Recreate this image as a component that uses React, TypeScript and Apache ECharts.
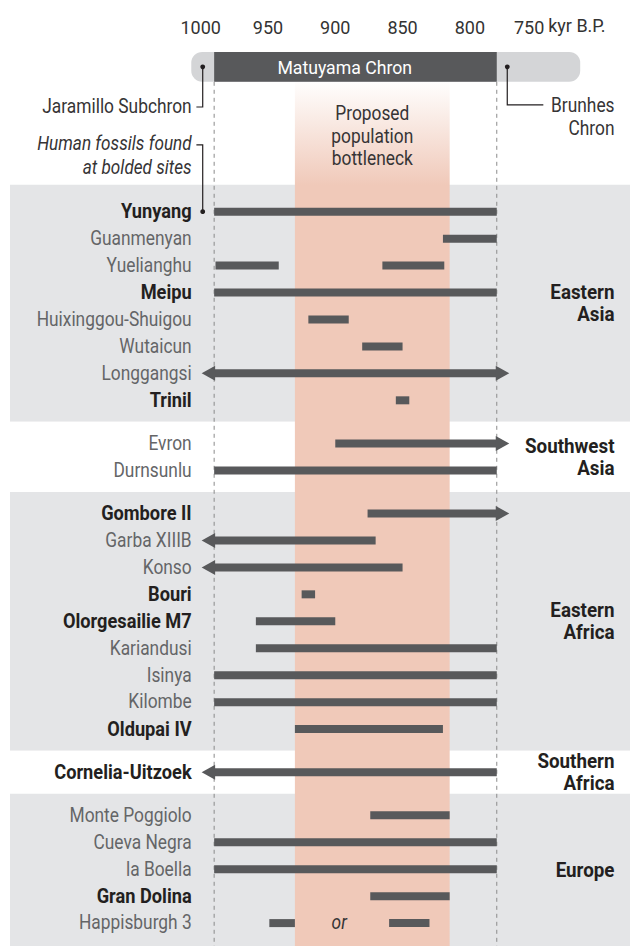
import React, { useEffect, useRef } from "react";
import * as echarts from "echarts";

// ---------- data ----------
const tickValues = [1000, 950, 900, 850, 800, 750];
const regionNames = [["Eastern", "Asia"], ["Southwest", "Asia"], ["Eastern", "Africa"], ["Southern", "Africa"], ["Europe"]];
const regionSiteCounts = [8, 2, 9, 1, 5];
const siteNames = [
  "Yunyang", "Guanmenyan", "Yuelianghu", "Meipu", "Huixinggou-Shuigou", "Wutaicun", "Longgangsi", "Trinil",
  "Evron", "Durnsunlu",
  "Gombore II", "Garba XIIIB", "Konso", "Bouri", "Olorgesailie M7", "Kariandusi", "Isinya", "Kilombe", "Oldupai IV",
  "Cornelia-Uitzoek",
  "Monte Poggiolo", "Cueva Negra", "la Boella", "Gran Dolina", "Happisburgh 3",
];
const humanFossilSites = ["Yunyang", "Meipu", "Trinil", "Gombore II", "Bouri", "Olorgesailie M7", "Oldupai IV", "Cornelia-Uitzoek", "Gran Dolina"];
// [site, from (kyr B.P.), to (kyr B.P.), arrow]
const siteSpans: [string, number, number, string][] = [
  ["Yunyang", 990, 780, ""],
  ["Guanmenyan", 820, 780, ""],
  ["Yuelianghu", 989, 942, ""],
  ["Yuelianghu", 865, 819, ""],
  ["Meipu", 990, 780, ""],
  ["Huixinggou-Shuigou", 920, 890, ""],
  ["Wutaicun", 880, 850, ""],
  ["Longgangsi", 990, 780, "both"],
  ["Trinil", 855, 845, ""],
  ["Evron", 900, 780, "right"],
  ["Durnsunlu", 990, 780, ""],
  ["Gombore II", 876, 780, "right"],
  ["Garba XIIIB", 990, 870, "left"],
  ["Konso", 990, 850, "left"],
  ["Bouri", 925, 915, ""],
  ["Olorgesailie M7", 959, 900, ""],
  ["Kariandusi", 959, 780, ""],
  ["Isinya", 990, 780, ""],
  ["Kilombe", 990, 780, ""],
  ["Oldupai IV", 930, 820, ""],
  ["Cornelia-Uitzoek", 990, 780, "left"],
  ["Monte Poggiolo", 874, 815, ""],
  ["Cueva Negra", 990, 780, ""],
  ["la Boella", 990, 780, ""],
  ["Gran Dolina", 874, 815, ""],
  ["Happisburgh 3", 949, 930, ""],
  ["Happisburgh 3", 860, 830, ""],
];
const matuyamaChron = [990, 780];
const chronBoundaries = [990, 780]; // Jaramillo end, Brunhes start
const bottleneck = [930, 815];

// ---------- layout constants ----------
const X_MIN = 681;
const X_MAX = 1141.7;
const Y_MIN = -6;
const Y_MAX = 27.25;
const REGION_GAP = 0.6;
const CHRON_TOP = -5.93;
const CHRON_BOTTOM = -4.82;
const CHRON_MID = (CHRON_TOP + CHRON_BOTTOM) / 2;
const LABEL_KYR = 1006.7;
const REGION_LABEL_KYR = 692.5;
const LEADER_KYR = 998.5;
const BRUNHES_DOT_KYR = 772.2;

const BAR = "#58595b";
const BAND = "#e4e5e7";
const SHADE = "240,201,185";
const DARK = "#231f20";
const GREY_TEXT = "#646567";
const ANNOT = "#363435";
const FF = "Roboto";
const TXT_SIZE = 19.5;
const SCALE_REG = 0.89;
const SCALE_BOLD = 0.935;

export default function App() {
  const ref = useRef<HTMLDivElement>(null);
  useEffect(() => {
    const el = ref.current!;

    // row positions
    const rowY: number[] = [];
    const bands: [number, number][] = [];
    let y = 0;
    regionSiteCounts.forEach((n, r) => {
      for (let i = 0; i < n; i++) rowY.push(y + i);
      const last = y + n - 1;
      bands.push([y - (r === 0 ? 1.0 : 0.8), r === regionSiteCounts.length - 1 ? Y_MAX : last + 0.8]);
      y = last + 1 + REGION_GAP;
    });

    const chart = echarts.init(el, null, { renderer: "svg" });
    const txt = (text: string, p: number[], o: any = {}) => {
      const bold = o.fontWeight === "bold";
      return {
        type: "text",
        x: p[0],
        y: p[1],
        scaleX: o.scaleX || (bold ? SCALE_BOLD : SCALE_REG),
        style: {
          text,
          x: 0,
          y: 0,
          fill: o.fill || ANNOT,
          fontFamily: FF,
          fontSize: o.fontSize || TXT_SIZE,
          fontWeight: o.fontWeight || "normal",
          fontStyle: o.fontStyle || "normal",
          align: o.align || "left",
          verticalAlign: "middle",
        },
      };
    };

    const option: any = {
      animation: false,
      backgroundColor: "#ffffff",
      grid: { left: 10, right: 0, top: 50, bottom: 0, containLabel: false, outerBoundsMode: "none" },
      xAxis: {
        type: "value",
        position: "top",
        inverse: true,
        min: X_MIN,
        max: X_MAX,
        axisLine: { show: false },
        splitLine: { show: false },
        axisTick: { show: true, customValues: tickValues, length: 9, lineStyle: { color: "#555", width: 1 } },
        axisLabel: {
          customValues: tickValues,
          margin: 14,
          color: "#333",
          fontFamily: FF,
          fontSize: 18,
          formatter: (v: number) => (v === 750 ? `{s|${v}}` : `${v}`),
          rich: { s: { padding: [0, 16, 0, 0], color: "#333", fontFamily: FF, fontSize: 18 } },
        },
      },
      yAxis: { type: "value", inverse: true, min: Y_MIN, max: Y_MAX, show: false },
      series: [
        {
          type: "custom",
          name: "bands",
          z: 1,
          clip: false,
          data: bands.map((b, i) => [b[0], b[1], i]),
          renderItem: (params: any, api: any) => {
            const b = bands[params.dataIndex];
            const p1 = api.coord([X_MAX, b[0]]);
            const p2 = api.coord([X_MIN, b[1]]);
            return {
              type: "rect",
              shape: { x: p1[0], y: p1[1], width: p2[0] - p1[0], height: p2[1] - p1[1] },
              style: { fill: params.dataIndex % 2 === 0 ? BAND : "#ffffff" },
            };
          },
        },
        {
          type: "custom",
          name: "bottleneck",
          z: 2,
          clip: false,
          data: [[bottleneck[0], bottleneck[1]]],
          renderItem: (params: any, api: any) => {
            const p1 = api.coord([api.value(0), CHRON_BOTTOM]);
            const p2 = api.coord([api.value(1), Y_MAX]);
            return {
              type: "rect",
              shape: { x: p1[0], y: p1[1], width: p2[0] - p1[0], height: p2[1] - p1[1] },
              style: {
                fill: new echarts.graphic.LinearGradient(0, 0, 0, 1, [
                  { offset: 0, color: `rgba(${SHADE},0.02)` },
                  { offset: 0.12, color: `rgba(${SHADE},1)` },
                  { offset: 1, color: `rgba(${SHADE},1)` },
                ]),
              },
            };
          },
        },
        {
          type: "custom",
          name: "boundaries",
          z: 3,
          clip: false,
          data: chronBoundaries.map((v) => [v, 0]),
          renderItem: (params: any, api: any) => {
            const p1 = api.coord([api.value(0), CHRON_BOTTOM]);
            const p2 = api.coord([api.value(0), Y_MAX]);
            return {
              type: "line",
              shape: { x1: p1[0], y1: p1[1], x2: p2[0], y2: p2[1] },
              style: { stroke: "#8a8a8a", lineWidth: 1, lineDash: [4, 4] },
            };
          },
        },
        {
          type: "custom",
          name: "annotations",
          z: 4,
          clip: false,
          data: [[1000, 0]],
          renderItem: (params: any, api: any) => {
            const c = (v: number, yy: number) => api.coord([v, yy]);
            const l1 = c(1007, CHRON_TOP);
            const l2 = c(718, CHRON_BOTTOM);
            const d1 = c(matuyamaChron[0], CHRON_TOP);
            const d2 = c(matuyamaChron[1], CHRON_BOTTOM);
            const jd = c(LEADER_KYR, CHRON_MID);
            const bd = c(BRUNHES_DOT_KYR, CHRON_MID);
            const mid = (bottleneck[0] + bottleneck[1]) / 2;
            return {
              type: "group",
              children: [
                { type: "rect", shape: { x: l1[0], y: l1[1], width: l2[0] - l1[0], height: l2[1] - l1[1], r: 11 }, style: { fill: "#d4d5d7" } },
                { type: "rect", shape: { x: d1[0], y: d1[1], width: d2[0] - d1[0], height: d2[1] - d1[1] }, style: { fill: BAR } },
                txt("Matuyama Chron", c(893, CHRON_MID), { fill: "#ffffff", align: "center", fontSize: 19, scaleX: 0.93 }),
                { type: "circle", shape: { cx: jd[0], cy: jd[1], r: 2.4 }, style: { fill: DARK } },
                { type: "circle", shape: { cx: bd[0], cy: bd[1], r: 2.4 }, style: { fill: DARK } },
                {
                  type: "polyline",
                  shape: { points: [jd, c(LEADER_KYR, -3.885), c(1003.2, -3.885)] },
                  style: { stroke: DARK, lineWidth: 1.2, fill: "none" },
                },
                txt("Jaramillo Subchron", c(LABEL_KYR, -3.9), { align: "right" }),
                {
                  type: "polyline",
                  shape: { points: [c(1003.2, -2.48), c(LEADER_KYR, -2.48), c(LEADER_KYR, 0)] },
                  style: { stroke: DARK, lineWidth: 1.2, fill: "none" },
                },
                { type: "circle", shape: { cx: c(LEADER_KYR, 0)[0], cy: c(LEADER_KYR, 0)[1], r: 2.4 }, style: { fill: DARK } },
                txt("Human fossils found", c(LABEL_KYR, -2.55), { align: "right", fontStyle: "italic", scaleX: 0.88 }),
                txt("at bolded sites", c(LABEL_KYR, -1.66), { align: "right", fontStyle: "italic", scaleX: 0.88 }),
                {
                  type: "polyline",
                  shape: { points: [bd, c(BRUNHES_DOT_KYR, -3.96), c(745.4, -3.96)] },
                  style: { stroke: DARK, lineWidth: 1.2, fill: "none" },
                },
                txt("Brunhes", c(REGION_LABEL_KYR, -3.92), { align: "right" }),
                txt("Chron", c(REGION_LABEL_KYR, -3.09), { align: "right" }),
                txt("Proposed", c(mid, -3.65), { align: "center" }),
                txt("population", c(mid, -2.78), { align: "center" }),
                txt("bottleneck", c(mid, -1.98), { align: "center" }),
                txt("kyr B.P.", c(741.8, -6.92), { fill: "#333", fontSize: 18, scaleX: 1 }),
                txt("or", c(897.1, rowY[siteNames.indexOf("Happisburgh 3")]), { align: "center", fontStyle: "italic" }),
              ],
            };
          },
        },
        {
          type: "custom",
          name: "spans",
          z: 5,
          clip: false,
          data: siteSpans.map((s) => [s[1], s[2], rowY[siteNames.indexOf(s[0])]]),
          renderItem: (params: any, api: any) => {
            const arrow = siteSpans[params.dataIndex][3];
            const yy = api.value(2);
            const p1 = api.coord([api.value(0), yy]);
            const p2 = api.coord([api.value(1), yy]);
            const h = 8;
            const children: any[] = [
              { type: "rect", shape: { x: p1[0], y: p1[1] - h / 2, width: p2[0] - p1[0], height: h }, style: { fill: BAR } },
            ];
            if (arrow === "left" || arrow === "both") {
              children.push({
                type: "polygon",
                shape: { points: [[p1[0] + 1, p1[1] - 7.5], [p1[0] - 12.5, p1[1]], [p1[0] + 1, p1[1] + 7.5]] },
                style: { fill: BAR },
              });
            }
            if (arrow === "right" || arrow === "both") {
              children.push({
                type: "polygon",
                shape: { points: [[p2[0] - 1, p2[1] - 7.5], [p2[0] + 12.5, p2[1]], [p2[0] - 1, p2[1] + 7.5]] },
                style: { fill: BAR },
              });
            }
            return { type: "group", children };
          },
        },
        {
          type: "custom",
          name: "siteLabels",
          z: 6,
          clip: false,
          data: siteNames.map((n, i) => [LABEL_KYR, rowY[i]]),
          renderItem: (params: any, api: any) => {
            const name = siteNames[params.dataIndex];
            const bold = humanFossilSites.includes(name);
            return txt(name, api.coord([api.value(0), api.value(1)]), {
              align: "right",
              fill: bold ? DARK : GREY_TEXT,
              fontWeight: bold ? "bold" : "normal",
            });
          },
        },
        {
          type: "custom",
          name: "regionLabels",
          z: 6,
          clip: false,
          data: bands.map((b) => [REGION_LABEL_KYR, (b[0] + b[1]) / 2]),
          renderItem: (params: any, api: any) => {
            const lines = regionNames[params.dataIndex];
            const p = api.coord([api.value(0), api.value(1)]);
            const lh = 22;
            return {
              type: "group",
              children: lines.map((t, j) =>
                txt(t, [p[0], p[1] + (j - (lines.length - 1) / 2) * lh], {
                  align: "right",
                  fill: DARK,
                  fontWeight: "bold",
                  fontSize: 20,
                  scaleX: 0.94,
                })
              ),
            };
          },
        },
      ],
    };
    chart.setOption(option);
    return () => chart.dispose();
  }, []);
  return (
    <div
      ref={ref}
      style={{ position: "absolute", left: 0, top: 0, width: 630, height: 946, background: "#fff" }}
    />
  );
}
